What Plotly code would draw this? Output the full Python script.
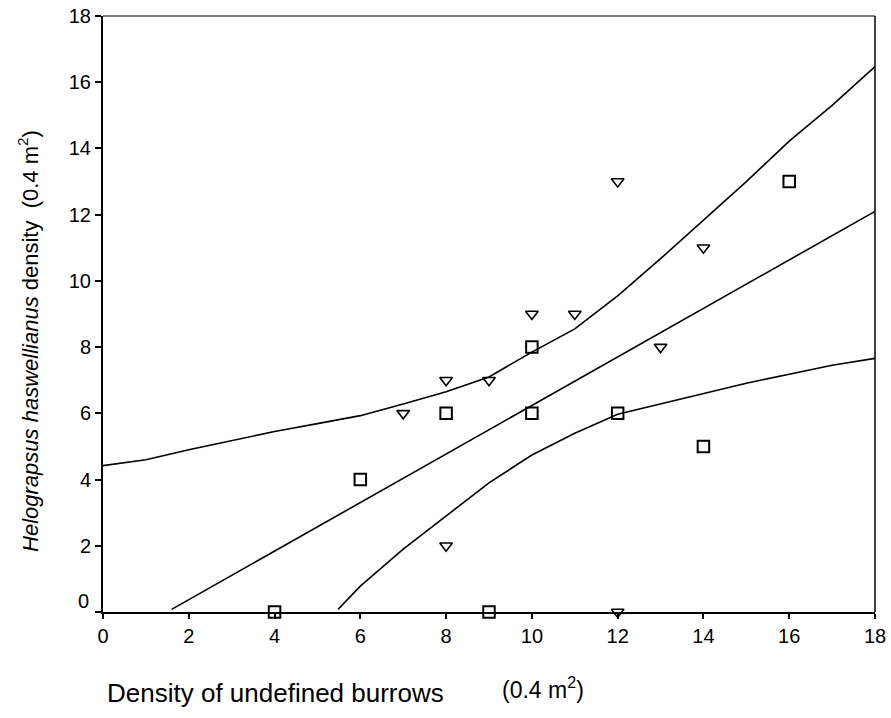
import plotly.graph_objects as go

# --- data ---
tri_x = [7, 8, 8, 9, 10, 11, 12, 12, 13, 14]
tri_y = [6, 7, 2, 7, 9, 9, 13, 0, 8, 11]
sq_x = [4, 6, 8, 9, 10, 10, 12, 14, 16]
sq_y = [0, 4, 6, 0, 8, 6, 6, 5, 13]

fit_x = [1.6, 18]
fit_y = [0.08, 12.1]

upper_x = [0, 1, 2, 3, 4, 5, 6, 7, 8, 9, 10, 11, 12, 13, 14, 15, 16, 17, 18]
upper_y = [4.42, 4.6, 4.9, 5.18, 5.45, 5.69, 5.93, 6.28, 6.65, 7.1, 7.85, 8.55,
           9.55, 10.67, 11.85, 13.0, 14.22, 15.3, 16.47]
lower_x = [5.48, 6, 7, 8, 9, 10, 11, 12, 13, 14, 15, 16, 17, 18]
lower_y = [0.08, 0.78, 1.9, 2.9, 3.9, 4.74, 5.4, 5.97, 6.29, 6.61, 6.91, 7.18, 7.45, 7.66]

tick_vals = [0, 2, 4, 6, 8, 10, 12, 14, 16, 18]
x_tick_text = [str(v) for v in tick_vals]
y_tick_text = [""] + [str(v) for v in tick_vals[1:]]

FONT = "Liberation Sans, Arial, Helvetica, sans-serif"

fig = go.Figure()
line_style = dict(color="black", width=1.6)
fig.add_trace(go.Scatter(x=upper_x, y=upper_y, mode="lines", line=line_style, showlegend=False))
fig.add_trace(go.Scatter(x=lower_x, y=lower_y, mode="lines", line=line_style, showlegend=False))
fig.add_trace(go.Scatter(x=fit_x, y=fit_y, mode="lines", line=line_style, showlegend=False))

fig.add_trace(go.Scatter(
    x=tri_x, y=tri_y, mode="markers", showlegend=False, cliponaxis=False,
    marker=dict(symbol="triangle-down-open", size=11, color="black",
                line=dict(color="black", width=1.6))))
fig.add_trace(go.Scatter(
    x=sq_x, y=sq_y, mode="markers", showlegend=False, cliponaxis=False,
    marker=dict(symbol="square-open", size=11.5, color="black",
                line=dict(color="black", width=2))))

fig.update_layout(
    width=891, height=718,
    margin=dict(l=103, r=16, t=16, b=106, autoexpand=False),
    paper_bgcolor="white", plot_bgcolor="white",
    font=dict(family=FONT, color="black", size=20),
    xaxis=dict(range=[0, 18], tickvals=tick_vals, ticktext=x_tick_text,
               showline=True, linecolor="black", linewidth=2,
               ticks="outside", ticklen=5, tickwidth=1.5, tickcolor="black",
               showgrid=False, zeroline=False, tickfont=dict(size=20)),
    yaxis=dict(range=[0, 18], tickvals=tick_vals, ticktext=y_tick_text,
               showline=True, linecolor="black", linewidth=2,
               ticks="outside", ticklen=6, tickwidth=1.5, tickcolor="black",
               showgrid=False, zeroline=False, tickfont=dict(size=20)),
    shapes=[
        dict(type="line", xref="paper", yref="paper", x0=0, x1=1, y0=1, y1=1,
             line=dict(color="black", width=1)),
        dict(type="line", xref="paper", yref="paper", x0=1, x1=1, y0=0, y1=1,
             line=dict(color="black", width=1.5)),
    ],
    annotations=[
        dict(text="0", xref="paper", yref="y", x=0, y=0, xshift=-12, yshift=11,
             xanchor="right", yanchor="middle", showarrow=False, font=dict(size=20)),
        dict(text="<i>Helograpsus haswellianus</i> density  (0.4 m<sup>2</sup>)",
             textangle=-90, xref="paper", yref="paper", x=-0.097, y=0.455,
             xanchor="center", yanchor="middle", showarrow=False, font=dict(size=22)),
        dict(text="Density of undefined burrows", xref="paper", yref="paper",
             x=0.223, y=-0.136, xanchor="center", yanchor="middle",
             showarrow=False, font=dict(size=26)),
        dict(text="(0.4 m<sup>2</sup>)", xref="paper", yref="paper",
             x=0.57, y=-0.128, xanchor="center", yanchor="middle",
             showarrow=False, font=dict(size=23)),
    ],
)

fig.write_html("out.html")
